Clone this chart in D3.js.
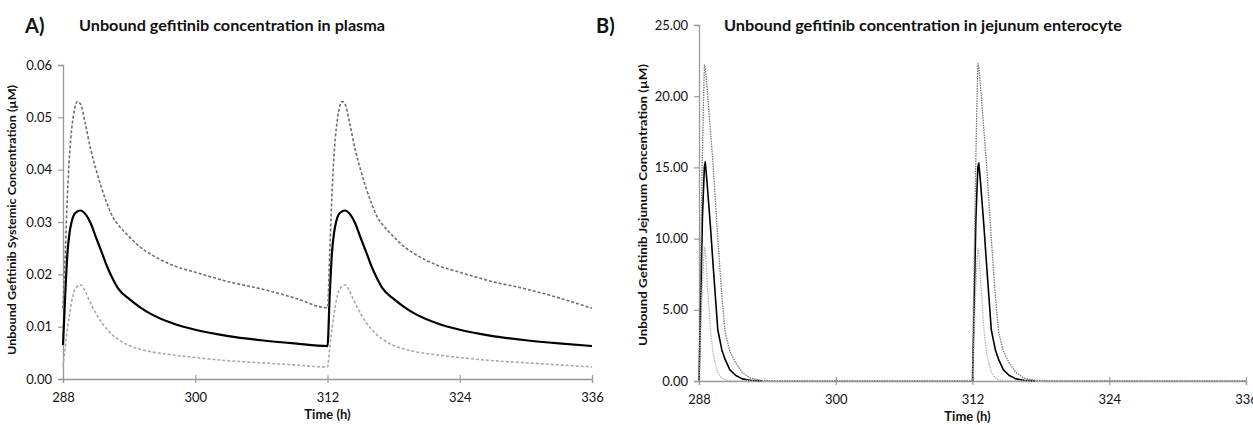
<!DOCTYPE html>
<html>
<head>
<meta charset="utf-8">
<script src="https://cdn.jsdelivr.net/npm/d3@7"></script>
<style>
  body { margin: 0; background: #fff; }
  text { font-family: Lato, "Open Sans", sans-serif; fill: #111; }
</style>
</head>
<body>
<div id="chart"></div>
<script>
// shared time ticks (h)
const timeTicks = [288, 300, 312, 324, 336];

// A) unbound gefitinib in plasma (uM)
const plasmaHours = [288, 288.2, 288.4, 288.6, 288.8, 289.0, 289.3, 289.6, 290.0, 290.5, 291.0, 291.5, 292.0, 292.5, 293.0, 294.0, 295.0, 296.0, 298.0, 300.0, 303.0, 306.0, 309.0, 312.0,
    312.2, 312.4, 312.6, 312.8, 313.0, 313.3, 313.6, 314.0, 314.5, 315.0, 315.5, 316.0, 316.5, 317.0, 318.0, 319.0, 320.0, 322.0, 324.0, 327.0, 330.0, 333.0, 336.0];
const plasmaMedian = [0.0065, 0.016, 0.024, 0.028, 0.0302, 0.0314, 0.0320, 0.0322, 0.0316, 0.0298, 0.0270, 0.0243, 0.0215, 0.0192, 0.0173, 0.0153, 0.0137, 0.0124, 0.0106, 0.0094, 0.0082, 0.0074, 0.0068, 0.0063,
    0.016, 0.024, 0.028, 0.0302, 0.0314, 0.0320, 0.0322, 0.0316, 0.0298, 0.0270, 0.0243, 0.0215, 0.0192, 0.0173, 0.0153, 0.0137, 0.0124, 0.0106, 0.0094, 0.0082, 0.0074, 0.0068, 0.0063];
const plasmaUpper = [0.0135, 0.024, 0.035, 0.043, 0.048, 0.051, 0.053, 0.0525, 0.049, 0.0440, 0.0400, 0.0365, 0.0335, 0.0310, 0.0295, 0.0272, 0.0252, 0.0238, 0.0217, 0.0204, 0.0186, 0.0172, 0.0155, 0.0136,
    0.024, 0.035, 0.043, 0.048, 0.051, 0.053, 0.0525, 0.049, 0.0440, 0.0400, 0.0365, 0.0335, 0.0310, 0.0295, 0.0272, 0.0252, 0.0238, 0.0217, 0.0204, 0.0186, 0.0172, 0.0155, 0.0135];
const plasmaLower = [0.0024, 0.006, 0.0095, 0.0125, 0.015, 0.0167, 0.0177, 0.018, 0.0168, 0.0145, 0.0125, 0.0108, 0.0095, 0.0084, 0.0076, 0.0064, 0.0057, 0.0052, 0.0046, 0.0041, 0.0035, 0.0031, 0.0027, 0.0023,
    0.006, 0.0095, 0.0125, 0.015, 0.0167, 0.0177, 0.018, 0.0168, 0.0145, 0.0125, 0.0108, 0.0095, 0.0084, 0.0076, 0.0064, 0.0057, 0.0052, 0.0046, 0.0041, 0.0035, 0.0031, 0.0027, 0.0023];
const plasmaTicks = [0, 0.01, 0.02, 0.03, 0.04, 0.05, 0.06];

// B) unbound gefitinib in jejunum enterocyte (uM); null = black line not visible (hidden under the dotted ones)
const jejunumHours = [288, 288.1, 288.3, 288.47, 288.55, 288.7, 289.0, 289.25, 289.65, 290.0, 290.3, 290.7, 291.2, 291.8, 292.5, 293.5, 295.0, 312.0,
    312.1, 312.3, 312.47, 312.55, 312.7, 313.0, 313.25, 313.65, 314.0, 314.3, 314.7, 315.2, 315.8, 316.5, 317.5, 319.0, 336.0];
const jejunumMedian = [0, 3.5, 11.5, 15.0, 15.4, 14.0, 10.9, 8.0, 3.6, 2.2, 1.5, 0.8, 0.4, 0.15, 0.05, 0.01, null, 0,
    3.5, 11.5, 15.0, 15.3, 14.0, 10.9, 8.0, 3.6, 2.2, 1.5, 0.8, 0.4, 0.15, 0.05, 0.01, null, null];
const jejunumUpper = [0, 6.0, 16.0, 22.2, 22.0, 20.7, 17.6, 15.0, 10.0, 6.0, 3.4, 2.1, 1.3, 0.6, 0.2, 0.05, 0, 0,
    6.0, 16.0, 22.3, 22.1, 20.7, 17.6, 15.0, 10.0, 6.0, 3.4, 2.1, 1.3, 0.6, 0.2, 0.05, 0, 0];
const jejunumLower = [0, 2.5, 6.8, 9.4, 9.2, 7.2, 3.6, 1.9, 0.6, 0.2, 0.08, 0.02, 0, 0, 0, 0, 0, 0,
    2.5, 6.8, 9.3, 9.1, 7.2, 3.6, 1.9, 0.6, 0.2, 0.08, 0.02, 0, 0, 0, 0, 0, 0];
const jejunumTicks = [0, 5, 10, 15, 20, 25];

const svg = d3.select("#chart").append("svg")
    .attr("width", 1253)
    .attr("height", 425);

svg.append("rect").attr("width", 1253).attr("height", 425).attr("fill", "#fff");

function drawPanel(opts) {
    const x = d3.scaleLinear().domain([288, 336]).range([opts.left, opts.right]);
    const y = d3.scaleLinear().domain(opts.yDomain).range([opts.bottom, opts.top]);

    // x axis
    const gx = svg.append("g")
        .attr("transform", `translate(0, ${opts.bottom})`)
        .call(d3.axisBottom(x).tickValues(timeTicks).tickSizeOuter(0).tickSize(4).tickPadding(10));
    gx.selectAll(".tick line").attr("y1", -4).attr("y2", 4);

    // y axis
    const gy = svg.append("g")
        .attr("transform", `translate(${opts.left}, 0)`)
        .call(d3.axisLeft(y).tickValues(opts.yTicks).tickFormat(opts.fmt).tickSizeOuter(0).tickSize(5).tickPadding(6));

    [gx, gy].forEach(g => {
        g.select(".domain").attr("stroke", "#999").attr("stroke-width", 1.3);
        g.selectAll(".tick line").attr("stroke", "#999").attr("stroke-width", 1.2);
        g.selectAll(".tick text").attr("font-size", 13).attr("fill", "#222")
            .style("font-family", "Lato, sans-serif");
    });

    const line = d3.line()
        .defined(d => d[1] != null)
        .x(d => x(d[0]))
        .y(d => y(d[1]))
        .curve(opts.curve);

    const series = [
        { values: opts.median, stroke: "#000", width: opts.solidWidth, dash: null },
        { values: opts.lower, stroke: opts.lowerColor, width: opts.dashWidth, dash: opts.dash },
        { values: opts.upper, stroke: opts.upperColor, width: opts.dashWidth, dash: opts.dash }
    ];

    series.forEach(s => {
        svg.append("path")
            .datum(opts.hours.map((h, i) => [h, s.values[i]]))
            .attr("fill", "none")
            .attr("stroke", s.stroke)
            .attr("stroke-width", s.width)
            .attr("stroke-dasharray", s.dash)
            .attr("stroke-linejoin", "round")
            .attr("d", line);
    });

    // axis titles
    svg.append("text")
        .attr("x", (opts.left + opts.right) / 2 + opts.timeShift)
        .attr("y", opts.bottom + 40)
        .attr("text-anchor", "middle")
        .attr("font-size", 13)
        .attr("font-weight", "bold")
        .text("Time (h)");

    svg.append("text")
        .attr("transform", `translate(${opts.yLabelX}, ${opts.yLabelY}) rotate(-90)`)
        .attr("text-anchor", "middle")
        .attr("font-size", 12)
        .attr("font-weight", "bold")
        .attr("textLength", opts.yLabelLen)
        .attr("lengthAdjust", "spacingAndGlyphs")
        .text(opts.yLabel);

    svg.append("text")
        .attr("x", opts.letterX)
        .attr("y", 33)
        .attr("font-size", 20)
        .attr("font-weight", "bold")
        .text(opts.letter);

    svg.append("text")
        .attr("x", opts.titleX)
        .attr("y", 31)
        .attr("font-size", 15)
        .attr("font-weight", "bold")
        .attr("textLength", opts.titleLen)
        .attr("lengthAdjust", "spacingAndGlyphs")
        .text(opts.title);
}

drawPanel({
    left: 63, right: 592, top: 65, bottom: 379,
    yDomain: [0, 0.06], yTicks: plasmaTicks, fmt: d3.format(".2f"),
    hours: plasmaHours, median: plasmaMedian, upper: plasmaUpper, lower: plasmaLower,
    curve: d3.curveMonotoneX,
    upperColor: "#6e6e6e", lowerColor: "#aaaaaa", dash: "3,2", dashWidth: 1.6, solidWidth: 2.2,
    timeShift: 0,
    yLabel: "Unbound Gefitinib Systemic Concentration (\u00b5M)", yLabelX: 16, yLabelY: 220, yLabelLen: 270,
    letter: "A)", letterX: 25,
    title: "Unbound gefitinib concentration in plasma", titleX: 79, titleLen: 306
});

drawPanel({
    left: 699, right: 1246, top: 25, bottom: 381,
    yDomain: [0, 25], yTicks: jejunumTicks, fmt: d3.format(".2f"),
    hours: jejunumHours, median: jejunumMedian, upper: jejunumUpper, lower: jejunumLower,
    curve: d3.curveLinear,
    upperColor: "#7a7a7a", lowerColor: "#b5b5b5", dash: "1.5,1", dashWidth: 1.3, solidWidth: 1.6,
    timeShift: -5,
    yLabel: "Unbound Gefitinib Jejunum Concentration (\u00b5M)", yLabelX: 647, yLabelY: 205, yLabelLen: 282,
    letter: "B)", letterX: 596,
    title: "Unbound gefitinib concentration in jejunum enterocyte", titleX: 724, titleLen: 398
});
</script>
</body>
</html>
